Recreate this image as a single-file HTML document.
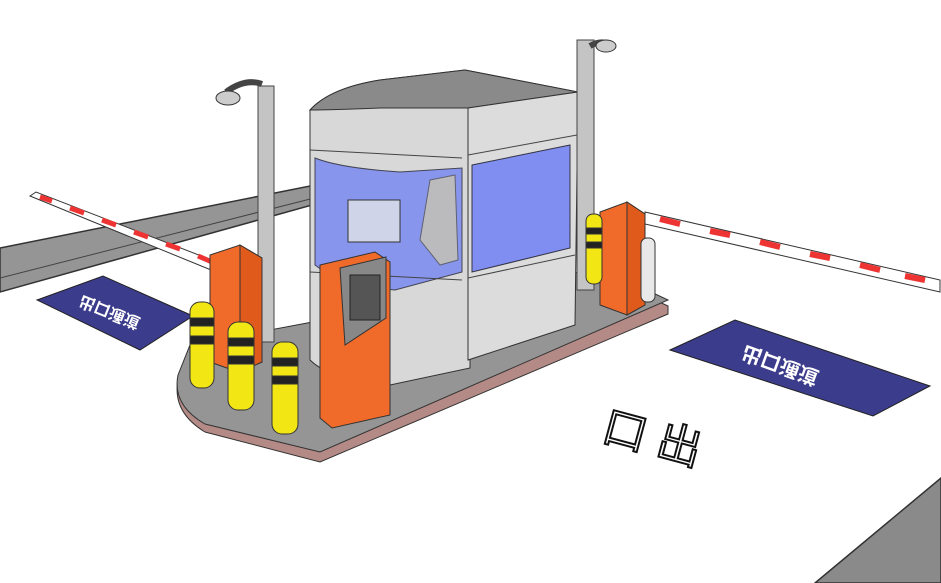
<!DOCTYPE html>
<html><head><meta charset="utf-8"><style>
body{margin:0;background:#fff;width:941px;height:583px;overflow:hidden}
svg{display:block}
text{font-family:"Liberation Sans","Noto Sans CJK SC",sans-serif}
</style></head><body>
<svg width="941" height="583" viewBox="0 0 941 583" xmlns="http://www.w3.org/2000/svg">
<rect width="941" height="583" fill="#fff"/>
<!-- road strips -->
<polygon points="0,248 310,186 330,200 0,292" fill="#959595" stroke="#333" stroke-width="1.5"/>
<polygon points="0,278 322,196" stroke="#444" fill="none"/>
<polygon points="815,583 941,478 941,583" fill="#8a8a8a" stroke="#333" stroke-width="1.5"/>
<!-- blue signs -->
<polygon points="37,300 103,276 193,316 140,350" fill="#3c3c8c" stroke="#222"/>
<text x="0" y="0" font-size="16" fill="#fff" transform="translate(82,295) rotate(22) scale(1,-1)" font-weight="bold">出口通道</text>
<polygon points="670,350 735,320 930,386 873,416" fill="#3c3c8c" stroke="#222"/>
<text x="0" y="0" font-size="20" fill="#fff" transform="translate(745,345) rotate(20) scale(1,-1)" font-weight="bold">出口通道</text>
<!-- ground text -->
<text x="0" y="0" font-size="44" fill="#fff" stroke="#111" stroke-width="2" transform="translate(600,440) rotate(15)">口 出</text>
<!-- platform -->
<path d="M190,352 L600,275 L668,306 L668,314 L320,462 L205,432 Q172,412 178,380 Z" fill="#b48a86" stroke="#333"/>
<path d="M190,345 L600,268 L668,300 L320,452 L205,424 Q172,405 178,375 Z" fill="#959595" stroke="#333"/>
<!-- left boom -->
<polygon points="30,196 36,192 222,264 216,272" fill="#fff" stroke="#333"/>
<g stroke="#e33" stroke-width="5">
<line x1="40" y1="197" x2="52" y2="201"/><line x1="70" y1="208" x2="84" y2="213"/><line x1="102" y1="220" x2="116" y2="225"/><line x1="134" y1="232" x2="148" y2="237"/><line x1="166" y1="244" x2="180" y2="249"/><line x1="198" y1="256" x2="212" y2="262"/>
</g>
<!-- right boom -->
<polygon points="645,212 940,280 940,292 645,224" fill="#fff" stroke="#333"/>
<g stroke="#e33" stroke-width="6">
<line x1="660" y1="219" x2="680" y2="224"/><line x1="710" y1="231" x2="730" y2="235"/><line x1="760" y1="242" x2="780" y2="247"/><line x1="810" y1="254" x2="830" y2="258"/><line x1="860" y1="265" x2="880" y2="270"/><line x1="905" y1="276" x2="925" y2="280"/>
</g>
<!-- booth -->
<path d="M310,110 Q330,88 380,80 L465,70 L578,92 L578,100 L470,110 L470,368 L390,385 Q330,380 310,360 Z" fill="#d8d8d8" stroke="#333"/>
<path d="M310,110 Q330,88 380,80 L465,70 L578,92 L468,108 L380,108 Q330,110 310,110 Z" fill="#8a8a8a" stroke="#333"/>
<polygon points="468,108 578,92 575,325 468,360" fill="#dcdcdc" stroke="#333"/>
<path d="M315,158 Q340,168 400,172 L462,168 L462,272 L395,290 Q340,285 315,265 Z" fill="#7f8ef0" stroke="#334" opacity="0.9"/>
<polygon points="472,165 570,145 570,248 472,272" fill="#7f8ef0" stroke="#334"/>
<rect x="348" y="200" width="52" height="42" fill="#d0d4e8" stroke="#333"/>
<polygon points="430,180 455,175 458,260 440,265 420,240" fill="#c8c4b0" stroke="#555" opacity="0.8"/>
<line x1="310" y1="150" x2="462" y2="158" stroke="#444"/><line x1="468" y1="155" x2="577" y2="135" stroke="#444"/>
<line x1="310" y1="272" x2="462" y2="280" stroke="#444"/><line x1="468" y1="278" x2="575" y2="255" stroke="#444"/>
<!-- poles -->
<rect x="258" y="86" width="16" height="256" fill="#c4c4c4" stroke="#444"/>
<path d="M226,92 Q245,78 262,84" stroke="#444" stroke-width="6" fill="none"/>
<ellipse cx="228" cy="98" rx="12" ry="7" fill="#ccc" stroke="#333"/>
<rect x="577" y="40" width="17" height="250" fill="#c4c4c4" stroke="#444"/>
<path d="M590,46 Q600,40 610,44" stroke="#444" stroke-width="6" fill="none"/>
<ellipse cx="606" cy="46" rx="10" ry="6" fill="#ccc" stroke="#333"/>
<!-- barrier gates -->
<polygon points="210,255 240,245 262,258 262,362 238,372 210,362" fill="#f06a2a" stroke="#333"/>
<polygon points="240,245 262,258 262,362 240,372" fill="#e05a1c" stroke="#333"/>
<polygon points="600,212 627,202 645,214 645,305 627,315 600,305" fill="#f06a2a" stroke="#333"/>
<polygon points="627,202 645,214 645,305 627,315" fill="#e05a1c" stroke="#333"/>
<rect x="641" y="238" width="14" height="64" rx="6" fill="#e8e8e8" stroke="#333"/>
<!-- ticket machine -->
<polygon points="320,265 375,252 390,262 390,415 332,428 320,418" fill="#f06a2a" stroke="#333"/>
<polygon points="340,268 386,257 386,318 345,345" fill="#888" stroke="#333"/>
<rect x="350" y="275" width="30" height="45" fill="#555" stroke="#222"/>
<!-- bollards -->
<g stroke="#333">
<rect x="190" y="302" width="24" height="86" rx="10" fill="#f2e614"/>
<rect x="190" y="318" width="24" height="8" fill="#222"/><rect x="190" y="336" width="24" height="8" fill="#222"/>
<rect x="228" y="322" width="26" height="88" rx="10" fill="#f2e614"/>
<rect x="228" y="338" width="26" height="8" fill="#222"/><rect x="228" y="356" width="26" height="8" fill="#222"/>
<rect x="272" y="342" width="26" height="92" rx="10" fill="#f2e614"/>
<rect x="272" y="358" width="26" height="8" fill="#222"/><rect x="272" y="376" width="26" height="8" fill="#222"/>
<rect x="586" y="214" width="16" height="70" rx="7" fill="#f2e614"/>
<rect x="586" y="228" width="16" height="6" fill="#222"/><rect x="586" y="242" width="16" height="6" fill="#222"/>
</g>
</svg>
</body></html>
